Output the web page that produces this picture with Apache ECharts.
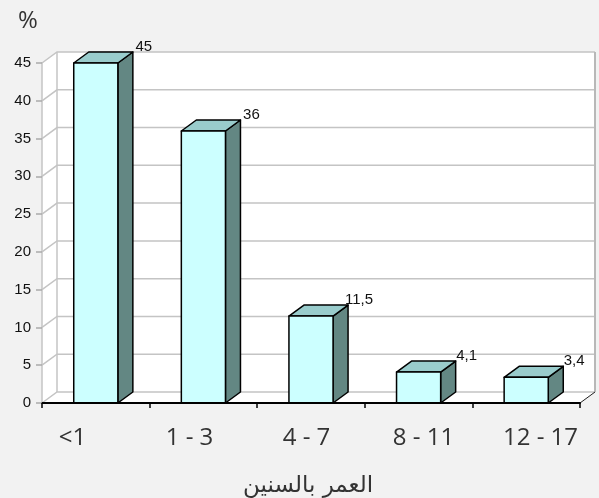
<!DOCTYPE html>
<html>
<head>
<meta charset="utf-8">
<script src="https://cdn.jsdelivr.net/npm/echarts@6/dist/echarts.min.js"></script>
<style>
html,body{margin:0;padding:0;background:#f2f2f2;}
#c{width:599px;height:498px;}
</style>
</head>
<body>
<div id="c"></div>
<script>
const categories = ['<1', '1 - 3', '4 - 7', '8 - 11', '12 - 17'];
const values = [45, 36, 11.5, 4.1, 3.4];
const yMin = 0, yMax = 45, yInterval = 5;
const yTicks = [0, 5, 10, 15, 20, 25, 30, 35, 40, 45];
const unitLabel = '%';
const axisTitle = 'العمر بالسنين';

const DX = 15, DY = -11;
const FRONT = '#ccffff', SIDE = '#638783', TOP = '#99cccc';

const chart = echarts.init(document.getElementById('c'));

function wallRender(params, api) {
  const cs = params.coordSys;
  const x0 = cs.x, x1 = cs.x + cs.width;
  const yTop = api.coord([0, yMax])[1];
  const yBot = api.coord([0, yMin])[1];
  const children = [];
  children.push({
    type: 'polygon',
    shape: { points: [[x0, yBot], [x0, yTop], [x0 + DX, yTop + DY], [x1 + DX, yTop + DY], [x1 + DX, yBot + DY], [x1, yBot]] },
    style: { fill: '#ffffff', stroke: null }
  });
  yTicks.forEach(v => {
    const y = api.coord([0, v])[1];
    children.push({
      type: 'polyline',
      shape: { points: [[x0, y], [x0 + DX, y + DY], [x1 + DX, y + DY]] },
      style: { fill: null, stroke: '#c4c4c4', lineWidth: 1.5 }
    });
  });
  children.push({ type: 'line', shape: { x1: x0 + DX, y1: yTop + DY, x2: x0 + DX, y2: yBot + DY }, style: { stroke: '#c4c4c4', lineWidth: 1.5 } });
  children.push({ type: 'line', shape: { x1: x1 + DX, y1: yTop + DY, x2: x1 + DX, y2: yBot + DY }, style: { stroke: '#b8b8b8', lineWidth: 2 } });
  children.push({ type: 'line', shape: { x1: x1, y1: yBot, x2: x1 + DX, y2: yBot + DY }, style: { stroke: '#222', lineWidth: 1 } });
  return { type: 'group', children: children };
}

function barRender(params, api) {
  const i = api.value(0), v = api.value(1);
  const p = api.coord([i, v]);
  const b = api.coord([i, 0]);
  const w = api.size([1, 0])[0] * 0.41;
  const xl = p[0] - w / 2, xr = p[0] + w / 2, yt = p[1], yb = b[1];
  const stroke = { stroke: '#000', lineWidth: 1.5, lineJoin: 'round' };
  return {
    type: 'group',
    children: [
      { type: 'polygon', shape: { points: [[xr, yb], [xr, yt], [xr + DX, yt + DY], [xr + DX, yb + DY]] }, style: Object.assign({ fill: SIDE }, stroke) },
      { type: 'polygon', shape: { points: [[xl, yt], [xl + DX, yt + DY], [xr + DX, yt + DY], [xr, yt]] }, style: Object.assign({ fill: TOP }, stroke) },
      { type: 'rect', shape: { x: xl, y: yt, width: w, height: yb - yt }, style: Object.assign({ fill: FRONT }, stroke) },
      { type: 'text', x: p[0] + 48, y: yt + DY - 5,
        style: { text: String(values[i]).replace('.', ','), fill: '#111', font: '15px "Liberation Sans", Arial, sans-serif', align: 'center', verticalAlign: 'middle' } }
    ]
  };
}

chart.setOption({
  backgroundColor: '#f2f2f2',
  animation: false,
  title: [
    { text: unitLabel, left: 13, top: 4, textStyle: { fontSize: 24, fontWeight: 'normal', color: '#333', fontFamily: '"Open Sans", sans-serif' } },
    { text: axisTitle, left: 238, top: 470, textStyle: { fontSize: 23, fontWeight: 'normal', color: '#333', fontFamily: '"DejaVu Sans", sans-serif' } }
  ],
  grid: [
    { left: 42, right: 19, top: 63, bottom: 95 },
    { left: 14, right: -4, top: 400, height: 3 }
  ],
  xAxis: [
    { type: 'category', gridIndex: 0, data: categories, z: 10,
      axisLine: { lineStyle: { color: '#000', width: 2 } },
      axisTick: { show: true, length: 5, lineStyle: { color: '#000', width: 1.5 } },
      axisLabel: { show: false }, splitLine: { show: false } },
    { type: 'category', gridIndex: 1, data: categories,
      axisLine: { show: false }, axisTick: { show: false }, splitLine: { show: false },
      axisLabel: { margin: 23, fontSize: 24, color: '#333', fontFamily: '"Open Sans", sans-serif' } }
  ],
  yAxis: [
    { type: 'value', gridIndex: 0, min: yMin, max: yMax, interval: yInterval, z: 10,
      axisLine: { show: true, lineStyle: { color: '#c4c4c4', width: 1.5 } },
      axisTick: { show: true, length: 6, lineStyle: { color: '#aaa', width: 1.5 } },
      splitLine: { show: false },
      axisLabel: { margin: 11, fontSize: 15, color: '#111', fontFamily: '"Liberation Sans", Arial, sans-serif' } },
    { type: 'value', gridIndex: 1, show: false }
  ],
  series: [
    { type: 'custom', xAxisIndex: 0, yAxisIndex: 0, z: 1, data: [[0, 0]], renderItem: wallRender, silent: true },
    { type: 'custom', xAxisIndex: 0, yAxisIndex: 0, z: 3, data: values.map((v, i) => [i, v]), renderItem: barRender }
  ]
});
</script>
</body>
</html>
